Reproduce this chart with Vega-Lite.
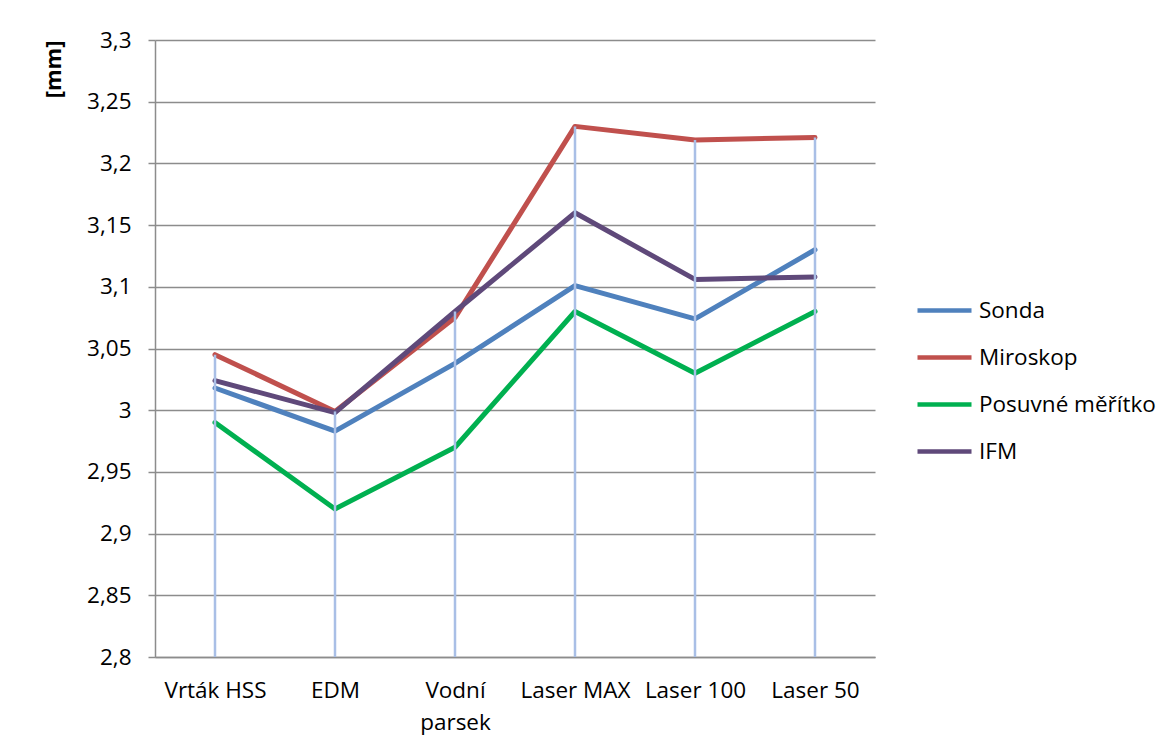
{
  "$schema": "https://vega.github.io/schema/vega-lite/v6.json",
  "width": 720,
  "height": 617,
  "autosize": {"type": "none"},
  "padding": {"left": 155, "top": 40, "right": 297, "bottom": 92},
  "background": "white",
  "config": {
    "view": {"stroke": null},
    "font": "Open Sans"
  },
  "data": {
    "values": [
      {"kategorie": "Vrták HSS", "serie": "Sonda", "hodnota": 3.018},
      {"kategorie": "EDM", "serie": "Sonda", "hodnota": 2.983},
      {"kategorie": "Vodní parsek", "serie": "Sonda", "hodnota": 3.038},
      {"kategorie": "Laser MAX", "serie": "Sonda", "hodnota": 3.101},
      {"kategorie": "Laser 100", "serie": "Sonda", "hodnota": 3.074},
      {"kategorie": "Laser 50", "serie": "Sonda", "hodnota": 3.130},
      {"kategorie": "Vrták HSS", "serie": "Miroskop", "hodnota": 3.045},
      {"kategorie": "EDM", "serie": "Miroskop", "hodnota": 2.999},
      {"kategorie": "Vodní parsek", "serie": "Miroskop", "hodnota": 3.075},
      {"kategorie": "Laser MAX", "serie": "Miroskop", "hodnota": 3.230},
      {"kategorie": "Laser 100", "serie": "Miroskop", "hodnota": 3.219},
      {"kategorie": "Laser 50", "serie": "Miroskop", "hodnota": 3.221},
      {"kategorie": "Vrták HSS", "serie": "Posuvné měřítko", "hodnota": 2.990},
      {"kategorie": "EDM", "serie": "Posuvné měřítko", "hodnota": 2.920},
      {"kategorie": "Vodní parsek", "serie": "Posuvné měřítko", "hodnota": 2.970},
      {"kategorie": "Laser MAX", "serie": "Posuvné měřítko", "hodnota": 3.080},
      {"kategorie": "Laser 100", "serie": "Posuvné měřítko", "hodnota": 3.030},
      {"kategorie": "Laser 50", "serie": "Posuvné měřítko", "hodnota": 3.080},
      {"kategorie": "Vrták HSS", "serie": "IFM", "hodnota": 3.024},
      {"kategorie": "EDM", "serie": "IFM", "hodnota": 2.998},
      {"kategorie": "Vodní parsek", "serie": "IFM", "hodnota": 3.080},
      {"kategorie": "Laser MAX", "serie": "IFM", "hodnota": 3.160},
      {"kategorie": "Laser 100", "serie": "IFM", "hodnota": 3.106},
      {"kategorie": "Laser 50", "serie": "IFM", "hodnota": 3.108}
    ]
  },
  "encoding": {
    "x": {
      "field": "kategorie",
      "type": "nominal",
      "sort": ["Vrták HSS", "EDM", "Vodní parsek", "Laser MAX", "Laser 100", "Laser 50"],
      "scale": {"type": "point", "padding": 0.5},
      "axis": {
        "title": null,
        "labelAngle": 0,
        "ticks": false,
        "grid": false,
        "domainColor": "#8c8c8c",
        "domainWidth": 1.5,
        "labelFont": "Open Sans",
        "labelFontSize": 22.5,
        "labelColor": "#000000",
        "labelPadding": 22,
        "labelBaseline": "top",
        "labelLineHeight": 32,
        "labelExpr": "datum.label == 'Vodní parsek' ? ['Vodní', 'parsek'] : datum.label"
      }
    }
  },
  "layer": [
    {
      "mark": {"type": "line", "strokeWidth": 5, "strokeCap": "round", "strokeJoin": "round"},
      "encoding": {
        "y": {
          "field": "hodnota",
          "type": "quantitative",
          "scale": {"domain": [2.8, 3.3], "nice": false, "zero": false},
          "axis": {
            "values": [2.8, 2.85, 2.9, 2.95, 3.0, 3.05, 3.1, 3.15, 3.2, 3.25, 3.3],
            "labelExpr": "replace(format(datum.value, '.2~f'), '.', ',')",
            "grid": true,
            "gridColor": "#8c8c8c",
            "gridWidth": 1.5,
            "domainColor": "#8c8c8c",
            "domainWidth": 1.5,
            "tickColor": "#8c8c8c",
            "tickWidth": 1.5,
            "tickSize": 7,
            "labelPadding": 17,
            "labelFont": "Open Sans",
            "labelFontSize": 22.5,
            "labelColor": "#000000",
            "title": "[mm]",
            "titleFont": "Open Sans",
            "titleFontSize": 22,
            "titleFontWeight": "bold",
            "titleColor": "#000000",
            "titleAngle": 270,
            "titleAlign": "right",
            "titleBaseline": "middle",
            "titleX": -102,
            "titleY": 0
          }
        },
        "color": {
          "field": "serie",
          "type": "nominal",
          "scale": {
            "domain": ["Sonda", "Miroskop", "Posuvné měřítko", "IFM"],
            "range": ["#4F81BD", "#C0504D", "#00B050", "#5F497A"]
          },
          "legend": {
            "title": null,
            "orient": "none",
            "legendX": 760,
            "legendY": 259,
            "symbolType": "M-1,0L5,0",
            "symbolSize": 324,
            "symbolStrokeWidth": 4.5,
            "labelOffset": 41,
            "rowPadding": 24,
            "labelFont": "Open Sans",
            "labelFontSize": 22.5,
            "labelColor": "#000000",
            "labelLimit": 300,
            "labelExpr": "datum.label == 'IFM' ? '  IFM' : datum.label"
          }
        }
      }
    },
    {
      "transform": [
        {"aggregate": [{"op": "max", "field": "hodnota", "as": "maxHodnota"}], "groupby": ["kategorie"]},
        {"calculate": "2.8", "as": "dno"}
      ],
      "mark": {"type": "rule", "color": "#a9bfe6", "strokeWidth": 2.5},
      "encoding": {
        "y": {"field": "maxHodnota", "type": "quantitative"},
        "y2": {"field": "dno"}
      }
    }
  ]
}
